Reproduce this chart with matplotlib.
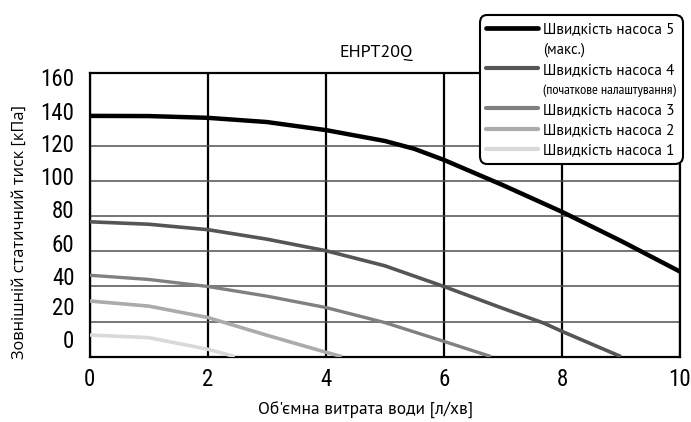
import matplotlib
matplotlib.use("Agg")
import matplotlib.pyplot as plt
from matplotlib.lines import Line2D

# Pump curves: flow [l/min] vs external static pressure [kPa]
flow_5 = [0, 1, 2, 3, 4, 5, 5.5, 6, 7, 8, 9, 10]
kpa_5 = [137.3, 137.2, 136.2, 133.8, 129.2, 123.0, 118.5, 112.2, 97.8, 82.6, 66.0, 48.5]

flow_4 = [0, 1, 2, 3, 4, 5, 6, 7, 7.7, 8, 8.5, 9.0]
kpa_4 = [76.9, 75.5, 72.4, 67.0, 60.4, 51.8, 40.0, 27.5, 19.0, 14.4, 7.2, 0]

flow_3 = [0, 1, 2, 3, 4, 5, 6, 6.8]
kpa_3 = [46.4, 44.0, 40.0, 34.5, 28.0, 19.4, 8.7, 0]

flow_2 = [0, 1, 2, 3, 4, 4.27]
kpa_2 = [31.7, 28.8, 22.3, 12.2, 2.5, 0]

flow_1 = [0, 1, 2, 2.46]
kpa_1 = [12.3, 10.8, 4.2, 0]

series_labels = ["Швидкість насоса 5", "Швидкість насоса 4", "Швидкість насоса 3",
                 "Швидкість насоса 2", "Швидкість насоса 1"]
series_notes = {0: "(макс.)", 1: "(початкове налаштування)"}

x_ticks = [0, 2, 4, 6, 8, 10]
y_grid = [20, 40, 60, 80, 100, 120, 140]
y_tick_labels = ["0", "20", "40", "60", "80", "100", "120", "140", "160"]
# the source image prints the y labels slightly off the grid lines
y_tick_pos = [9.9, 28.6, 45.7, 65.0, 84.3, 103.1, 121.8, 140.0, 159.5]

colors = ["#000000", "#555555", "#808080", "#ababab", "#d9d9d9"]
widths = [3.2, 2.6, 2.4, 2.6, 2.6]

COND = ["Roboto Condensed", "DejaVu Sans"]
NARROW = ["PT Sans Narrow", "DejaVu Sans"]
MYRIAD = ["PT Sans", "DejaVu Sans"]

fig = plt.figure(figsize=(6.91, 4.22), dpi=100)
ax = fig.add_axes([0.1298, 0.155, 0.8542, 0.673])

data = [(flow_5, kpa_5), (flow_4, kpa_4), (flow_3, kpa_3), (flow_2, kpa_2), (flow_1, kpa_1)]
for (fx, fy), c, lw in zip(data, colors, widths):
    ax.plot(fx, fy, color=c, lw=lw, solid_capstyle="butt", zorder=3)

ax.set_xlim(0, 10)
ax.set_ylim(0, 162)

ax.set_xticks(x_ticks)
ax.set_xticklabels([str(t) for t in x_ticks], family=COND, fontsize=16.5)
ax.set_yticks(y_tick_pos)
ax.set_yticklabels(y_tick_labels, family=COND, fontsize=16.5)
ax.set_yticks(y_grid, minor=True)
ax.tick_params(which="both", length=0)
ax.tick_params(axis="x", pad=8)
ax.tick_params(axis="y", pad=11)

ax.grid(False)
ax.yaxis.grid(True, which="minor", color="#505050", lw=1.1)
ax.xaxis.grid(True, which="major", color="black", lw=1.6)
for s in ax.spines.values():
    s.set_linewidth(1.6)
    s.set_color("black")

ax.set_title("EHPT20Q", family=MYRIAD, fontsize=13, x=0.486, pad=11)
ax.set_xlabel("Об'ємна витрата води [л/хв]", family=MYRIAD, fontsize=12.5)
ax.xaxis.set_label_coords(0.468, -0.16)
ax.set_ylabel("Зовнішній статичний тиск [кПа]", family=["Open Sans", "DejaVu Sans"],
              fontsize=11.8)
ax.yaxis.set_label_coords(-0.104, 0.44)

handles, labels = [], []
for i, lab in enumerate(series_labels):
    handles.append(Line2D([], [], color=colors[i], lw=3.4 if i == 0 else 3.0,
                          solid_capstyle="round"))
    labels.append(lab)
    if i in series_notes:
        handles.append(Line2D([], [], color="none"))
        labels.append(series_notes[i])

leg = fig.legend(handles, labels, loc="upper right", bbox_to_anchor=(0.988, 0.964),
                 bbox_transform=fig.transFigure, borderaxespad=0, handlelength=3.4,
                 handletextpad=0.3, labelspacing=0.4, borderpad=0.45, fancybox=True,
                 framealpha=1, edgecolor="black", prop={"family": MYRIAD, "size": 11})
leg.get_frame().set_linewidth(1.5)
leg.get_frame().set_boxstyle("round,pad=0,rounding_size=0.5")
for t in leg.get_texts():
    if t.get_text() == series_notes[1]:
        t.set_fontfamily(NARROW)
        t.set_fontsize(10.3)
    elif t.get_text() == series_notes[0]:
        t.set_fontsize(10.5)

fig.savefig("out.png", dpi=100, facecolor="white")
